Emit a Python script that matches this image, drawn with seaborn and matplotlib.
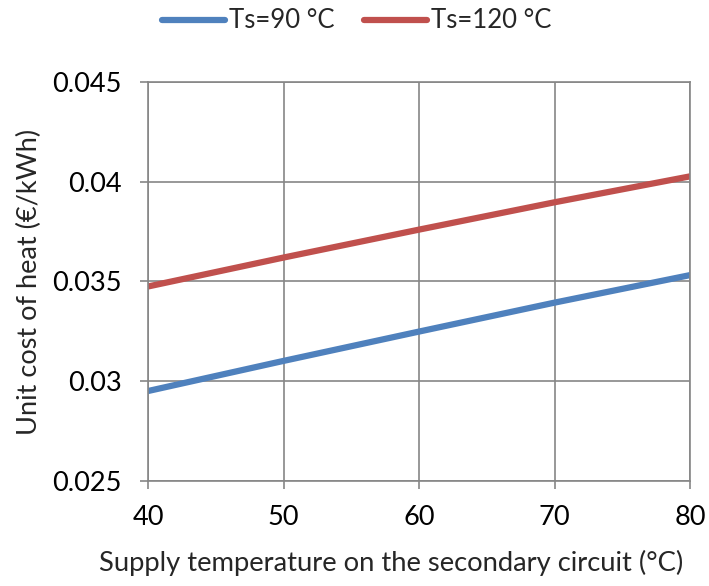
import matplotlib
matplotlib.use("Agg")
import matplotlib.pyplot as plt
import seaborn as sns
import pandas as pd

supply_temp = [40, 50, 60, 70, 80]
cost_ts90 = [0.02951, 0.03102, 0.03249, 0.03394, 0.03532]
cost_ts120 = [0.03475, 0.0362, 0.0376, 0.03897, 0.04027]
series_names = ["Ts=90 °C", "Ts=120 °C"]
y_ticks = [0.025, 0.03, 0.035, 0.04, 0.045]
y_tick_labels = ["0.025", "0.03", "0.035", "0.04", "0.045"]
x_ticks = [40, 50, 60, 70, 80]

df = pd.DataFrame({
    "x": supply_temp * 2,
    "y": cost_ts90 + cost_ts120,
    "series": [series_names[0]] * len(supply_temp) + [series_names[1]] * len(supply_temp),
})

sns.set_style("white")
plt.rcParams["font.family"] = ["Lato", "DejaVu Sans"]

fig = plt.figure(figsize=(7.09, 5.86), dpi=100)
ax = fig.add_axes([148 / 709, 1 - 481 / 586, 542 / 709, 399 / 586])

sns.lineplot(data=df, x="x", y="y", hue="series", palette=["#4F81BD", "#C0504D"],
             linewidth=4.5, ax=ax, legend=True)

ax.set_xlim(40, 80)
ax.set_ylim(0.025, 0.045)
ax.set_xticks(x_ticks)
ax.set_xticklabels([str(v) for v in x_ticks])
ax.set_yticks(y_ticks)
ax.set_yticklabels(y_tick_labels)
ax.grid(True, color="#868686", linewidth=1.2)
ax.set_axisbelow(True)
for s in ax.spines.values():
    s.set_color("#868686")
    s.set_linewidth(1.2)
ax.tick_params(axis="both", direction="out", length=6, width=1.2, color="#868686",
               labelsize=19.5, left=True, bottom=True, labelcolor="black")
ax.tick_params(axis="y", pad=13)
ax.tick_params(axis="x", pad=11)
ax.set_xlabel("Supply temperature on the secondary circuit (°C)", fontsize=19.7, labelpad=14.5)
ax.xaxis.label.set_x(0.449)
ax.set_ylabel("Unit cost of heat (€/kWh)", fontsize=19.5, labelpad=7)

handles, labels = ax.get_legend_handles_labels()
ax.legend(handles, labels, loc="center", bbox_to_anchor=(357 / 709, 1 - 21 / 586),
          bbox_transform=fig.transFigure, ncol=2, frameon=False, fontsize=18.5,
          handlelength=2.45, handletextpad=0.15, columnspacing=1.15,
          borderpad=0, borderaxespad=0)

fig.savefig("out.png", dpi=100)
